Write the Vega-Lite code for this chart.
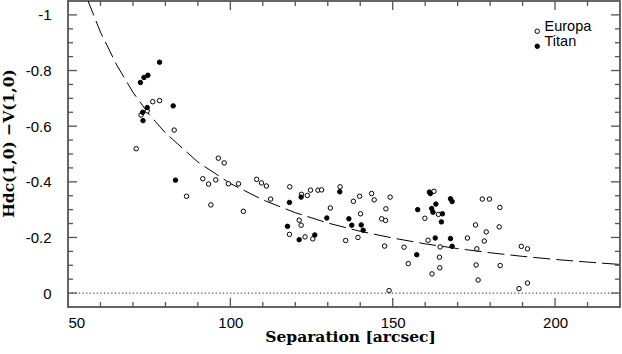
{
  "$schema": "https://vega.github.io/schema/vega-lite/v6.json",
  "width": 552,
  "height": 306,
  "autosize": {"type": "none"},
  "padding": {"left": 68, "top": 1, "right": 2, "bottom": 47},
  "background": "white",
  "config": {
    "view": {"stroke": "#666", "strokeWidth": 2},
    "axis": {"grid": false, "domain": false, "ticks": false, "labelFont": "Liberation Sans", "labelFontSize": 15, "labelColor": "black", "titleFont": "DejaVu Serif", "titleFontWeight": "bold", "titleFontSize": 15.5, "titleColor": "black"}
  },
  "datasets": {
    "xticks": [
      {"v": 50, "kind": "major"}, {"v": 60, "kind": "minor"}, {"v": 70, "kind": "minor"}, {"v": 80, "kind": "minor"}, {"v": 90, "kind": "minor"},
      {"v": 100, "kind": "major"}, {"v": 110, "kind": "minor"}, {"v": 120, "kind": "minor"}, {"v": 130, "kind": "minor"}, {"v": 140, "kind": "minor"},
      {"v": 150, "kind": "major"}, {"v": 160, "kind": "minor"}, {"v": 170, "kind": "minor"}, {"v": 180, "kind": "minor"}, {"v": 190, "kind": "minor"},
      {"v": 200, "kind": "major"}, {"v": 210, "kind": "minor"}
    ],
    "yticks": [
      {"v": -1, "kind": "major"}, {"v": -0.95, "kind": "minor"}, {"v": -0.9, "kind": "minor"}, {"v": -0.85, "kind": "minor"},
      {"v": -0.8, "kind": "major"}, {"v": -0.75, "kind": "minor"}, {"v": -0.7, "kind": "minor"}, {"v": -0.65, "kind": "minor"},
      {"v": -0.6, "kind": "major"}, {"v": -0.55, "kind": "minor"}, {"v": -0.5, "kind": "minor"}, {"v": -0.45, "kind": "minor"},
      {"v": -0.4, "kind": "major"}, {"v": -0.35, "kind": "minor"}, {"v": -0.3, "kind": "minor"}, {"v": -0.25, "kind": "minor"},
      {"v": -0.2, "kind": "major"}, {"v": -0.15, "kind": "minor"}, {"v": -0.1, "kind": "minor"}, {"v": -0.05, "kind": "minor"},
      {"v": 0, "kind": "major"}
    ],
    "curve": [
      {"sep": 56, "val": -1.055}, {"sep": 60, "val": -0.938}, {"sep": 65, "val": -0.82}, {"sep": 70, "val": -0.722},
      {"sep": 75, "val": -0.642}, {"sep": 80, "val": -0.576}, {"sep": 90, "val": -0.471}, {"sep": 100, "val": -0.394},
      {"sep": 110, "val": -0.335}, {"sep": 120, "val": -0.289}, {"sep": 130, "val": -0.252}, {"sep": 140, "val": -0.222},
      {"sep": 150, "val": -0.198}, {"sep": 160, "val": -0.177}, {"sep": 170, "val": -0.16}, {"sep": 180, "val": -0.145},
      {"sep": 190, "val": -0.132}, {"sep": 200, "val": -0.121}, {"sep": 210, "val": -0.1115}, {"sep": 220, "val": -0.103}
    ],
    "points": [
      {"moon": "Europa", "sep": 76.1, "val": -0.688}, {"moon": "Europa", "sep": 78.2, "val": -0.692}, {"moon": "Europa", "sep": 72.5, "val": -0.64},
      {"moon": "Europa", "sep": 74.4, "val": -0.655}, {"moon": "Europa", "sep": 82.7, "val": -0.586}, {"moon": "Europa", "sep": 71.0, "val": -0.519},
      {"moon": "Europa", "sep": 86.5, "val": -0.348}, {"moon": "Europa", "sep": 96.3, "val": -0.485}, {"moon": "Europa", "sep": 98.1, "val": -0.468},
      {"moon": "Europa", "sep": 91.5, "val": -0.411}, {"moon": "Europa", "sep": 93.3, "val": -0.392}, {"moon": "Europa", "sep": 95.5, "val": -0.407},
      {"moon": "Europa", "sep": 99.4, "val": -0.393}, {"moon": "Europa", "sep": 102.5, "val": -0.393}, {"moon": "Europa", "sep": 94.0, "val": -0.317},
      {"moon": "Europa", "sep": 104.0, "val": -0.294}, {"moon": "Europa", "sep": 108.1, "val": -0.409}, {"moon": "Europa", "sep": 109.6, "val": -0.396},
      {"moon": "Europa", "sep": 111.1, "val": -0.385}, {"moon": "Europa", "sep": 112.4, "val": -0.338}, {"moon": "Europa", "sep": 118.3, "val": -0.382},
      {"moon": "Europa", "sep": 118.2, "val": -0.211}, {"moon": "Europa", "sep": 121.2, "val": -0.262}, {"moon": "Europa", "sep": 121.8, "val": -0.244},
      {"moon": "Europa", "sep": 123.0, "val": -0.202}, {"moon": "Europa", "sep": 125.4, "val": -0.195}, {"moon": "Europa", "sep": 121.9, "val": -0.355},
      {"moon": "Europa", "sep": 123.7, "val": -0.351}, {"moon": "Europa", "sep": 124.7, "val": -0.37}, {"moon": "Europa", "sep": 127.0, "val": -0.37},
      {"moon": "Europa", "sep": 128.1, "val": -0.371}, {"moon": "Europa", "sep": 130.8, "val": -0.306}, {"moon": "Europa", "sep": 133.8, "val": -0.382},
      {"moon": "Europa", "sep": 135.5, "val": -0.189}, {"moon": "Europa", "sep": 137.9, "val": -0.33}, {"moon": "Europa", "sep": 139.8, "val": -0.348},
      {"moon": "Europa", "sep": 143.5, "val": -0.358}, {"moon": "Europa", "sep": 144.3, "val": -0.335}, {"moon": "Europa", "sep": 149.2, "val": -0.345},
      {"moon": "Europa", "sep": 147.9, "val": -0.303}, {"moon": "Europa", "sep": 140.1, "val": -0.285}, {"moon": "Europa", "sep": 146.6, "val": -0.267},
      {"moon": "Europa", "sep": 147.8, "val": -0.261}, {"moon": "Europa", "sep": 139.3, "val": -0.2}, {"moon": "Europa", "sep": 147.5, "val": -0.169},
      {"moon": "Europa", "sep": 153.5, "val": -0.165}, {"moon": "Europa", "sep": 154.8, "val": -0.106}, {"moon": "Europa", "sep": 148.9, "val": -0.009},
      {"moon": "Europa", "sep": 162.1, "val": -0.069}, {"moon": "Europa", "sep": 160.9, "val": -0.19}, {"moon": "Europa", "sep": 164.6, "val": -0.166},
      {"moon": "Europa", "sep": 164.4, "val": -0.129}, {"moon": "Europa", "sep": 164.5, "val": -0.091}, {"moon": "Europa", "sep": 159.9, "val": -0.269},
      {"moon": "Europa", "sep": 162.7, "val": -0.366}, {"moon": "Europa", "sep": 164.1, "val": -0.283}, {"moon": "Europa", "sep": 173.0, "val": -0.198},
      {"moon": "Europa", "sep": 175.5, "val": -0.245}, {"moon": "Europa", "sep": 175.9, "val": -0.159}, {"moon": "Europa", "sep": 175.7, "val": -0.101},
      {"moon": "Europa", "sep": 176.3, "val": -0.047}, {"moon": "Europa", "sep": 177.6, "val": -0.338}, {"moon": "Europa", "sep": 179.8, "val": -0.338},
      {"moon": "Europa", "sep": 178.8, "val": -0.22}, {"moon": "Europa", "sep": 178.2, "val": -0.187}, {"moon": "Europa", "sep": 183.0, "val": -0.308},
      {"moon": "Europa", "sep": 182.8, "val": -0.238}, {"moon": "Europa", "sep": 183.1, "val": -0.099}, {"moon": "Europa", "sep": 189.6, "val": -0.168},
      {"moon": "Europa", "sep": 191.5, "val": -0.159}, {"moon": "Europa", "sep": 188.9, "val": -0.016}, {"moon": "Europa", "sep": 191.5, "val": -0.036},
      {"moon": "Titan", "sep": 78.2, "val": -0.83}, {"moon": "Titan", "sep": 72.3, "val": -0.757}, {"moon": "Titan", "sep": 73.4, "val": -0.775},
      {"moon": "Titan", "sep": 74.6, "val": -0.783}, {"moon": "Titan", "sep": 82.4, "val": -0.673}, {"moon": "Titan", "sep": 74.4, "val": -0.667},
      {"moon": "Titan", "sep": 73.0, "val": -0.65}, {"moon": "Titan", "sep": 73.1, "val": -0.62}, {"moon": "Titan", "sep": 83.1, "val": -0.406},
      {"moon": "Titan", "sep": 118.2, "val": -0.326}, {"moon": "Titan", "sep": 117.6, "val": -0.24}, {"moon": "Titan", "sep": 121.2, "val": -0.192},
      {"moon": "Titan", "sep": 126.0, "val": -0.209}, {"moon": "Titan", "sep": 121.8, "val": -0.345}, {"moon": "Titan", "sep": 129.7, "val": -0.27},
      {"moon": "Titan", "sep": 133.7, "val": -0.364}, {"moon": "Titan", "sep": 136.5, "val": -0.267}, {"moon": "Titan", "sep": 137.4, "val": -0.244},
      {"moon": "Titan", "sep": 140.3, "val": -0.245}, {"moon": "Titan", "sep": 140.9, "val": -0.226}, {"moon": "Titan", "sep": 157.4, "val": -0.138},
      {"moon": "Titan", "sep": 163.1, "val": -0.198}, {"moon": "Titan", "sep": 157.7, "val": -0.3}, {"moon": "Titan", "sep": 161.3, "val": -0.363},
      {"moon": "Titan", "sep": 161.6, "val": -0.358}, {"moon": "Titan", "sep": 163.3, "val": -0.32}, {"moon": "Titan", "sep": 162.0, "val": -0.304},
      {"moon": "Titan", "sep": 162.4, "val": -0.291}, {"moon": "Titan", "sep": 165.3, "val": -0.285}, {"moon": "Titan", "sep": 165.0, "val": -0.256},
      {"moon": "Titan", "sep": 167.8, "val": -0.339}, {"moon": "Titan", "sep": 168.3, "val": -0.329}, {"moon": "Titan", "sep": 167.8, "val": -0.196},
      {"moon": "Titan", "sep": 168.3, "val": -0.168}
    ]
  },
  "layer": [
    {
      "data": {"name": "curve"},
      "mark": {"type": "line", "color": "black", "strokeWidth": 1, "strokeDash": [17, 6], "clip": true},
      "encoding": {
        "x": {"field": "sep", "type": "quantitative", "scale": {"domain": [50, 220], "nice": false, "zero": false},
              "axis": {"orient": "bottom", "values": [50, 100, 150, 200], "labelPadding": 8, "title": "Separation [arcsec]", "titleX": 282, "titleY": 34, "titleBaseline": "alphabetic", "titleAnchor": null}},
        "y": {"field": "val", "type": "quantitative", "scale": {"domain": [-1.05, 0.05], "reverse": true, "nice": false, "zero": false},
              "axis": {"orient": "left", "values": [-1, -0.8, -0.6, -0.4, -0.2, 0], "labelPadding": 17,
                       "labelExpr": "datum.value == 0 ? '0' : replace(format(datum.value, '.1~f'), '\u2212', '-')",
                       "title": "Hdc(1,0)    \u2212V(1,0)", "titleX": -55, "titleY": 142, "titleAngle": 270, "titleBaseline": "alphabetic", "titleAnchor": null}}
      }
    },
    {
      "data": {"values": [{}]},
      "mark": {"type": "rule", "color": "#555", "strokeWidth": 1.3, "strokeDash": [1.3, 2.3]},
      "encoding": {
        "x": {"datum": 50, "type": "quantitative"},
        "x2": {"datum": 220},
        "y": {"datum": 0, "type": "quantitative"}
      }
    },
    {
      "data": {"name": "xticks"},
      "mark": {"type": "tick", "orient": "vertical", "color": "#555", "thickness": 1.3, "clip": true, "opacity": 1},
      "encoding": {
        "x": {"field": "v", "type": "quantitative"},
        "y": {"datum": 0.05, "type": "quantitative"},
        "size": {"field": "kind", "type": "nominal", "scale": {"domain": ["major", "minor"], "range": [18, 10]}, "legend": null}
      }
    },
    {
      "data": {"name": "xticks"},
      "mark": {"type": "tick", "orient": "vertical", "color": "#555", "thickness": 1.3, "clip": true, "opacity": 1},
      "encoding": {
        "x": {"field": "v", "type": "quantitative"},
        "y": {"datum": -1.05, "type": "quantitative"},
        "size": {"field": "kind", "type": "nominal", "scale": {"domain": ["major", "minor"], "range": [18, 10]}, "legend": null}
      }
    },
    {
      "data": {"name": "yticks"},
      "mark": {"type": "tick", "orient": "horizontal", "color": "#555", "thickness": 1.3, "clip": true, "opacity": 1},
      "encoding": {
        "y": {"field": "v", "type": "quantitative"},
        "x": {"datum": 50, "type": "quantitative"},
        "size": {"field": "kind", "type": "nominal", "scale": {"domain": ["major", "minor"], "range": [18, 10]}, "legend": null}
      }
    },
    {
      "data": {"name": "yticks"},
      "mark": {"type": "tick", "orient": "horizontal", "color": "#555", "thickness": 1.3, "clip": true, "opacity": 1},
      "encoding": {
        "y": {"field": "v", "type": "quantitative"},
        "x": {"datum": 220, "type": "quantitative"},
        "size": {"field": "kind", "type": "nominal", "scale": {"domain": ["major", "minor"], "range": [18, 10]}, "legend": null}
      }
    },
    {
      "data": {"name": "points"},
      "mark": {"type": "point", "shape": "circle", "filled": false, "stroke": "black", "strokeWidth": 1, "size": 20, "opacity": 1},
      "encoding": {
        "x": {"field": "sep", "type": "quantitative"},
        "y": {"field": "val", "type": "quantitative"},
        "fill": {"field": "moon", "type": "nominal", "scale": {"domain": ["Europa", "Titan"], "range": ["white", "black"]},
                 "legend": {"orient": "none", "legendX": 462, "legendY": 23, "title": null, "padding": 0, "symbolType": "circle", "symbolSize": 20, "symbolStrokeColor": "black", "symbolStrokeWidth": 1, "labelFont": "Liberation Sans", "labelFontSize": 14.5, "labelBaseline": "alphabetic", "labelOffset": 0, "rowPadding": -2}}
      }
    }
  ]
}
